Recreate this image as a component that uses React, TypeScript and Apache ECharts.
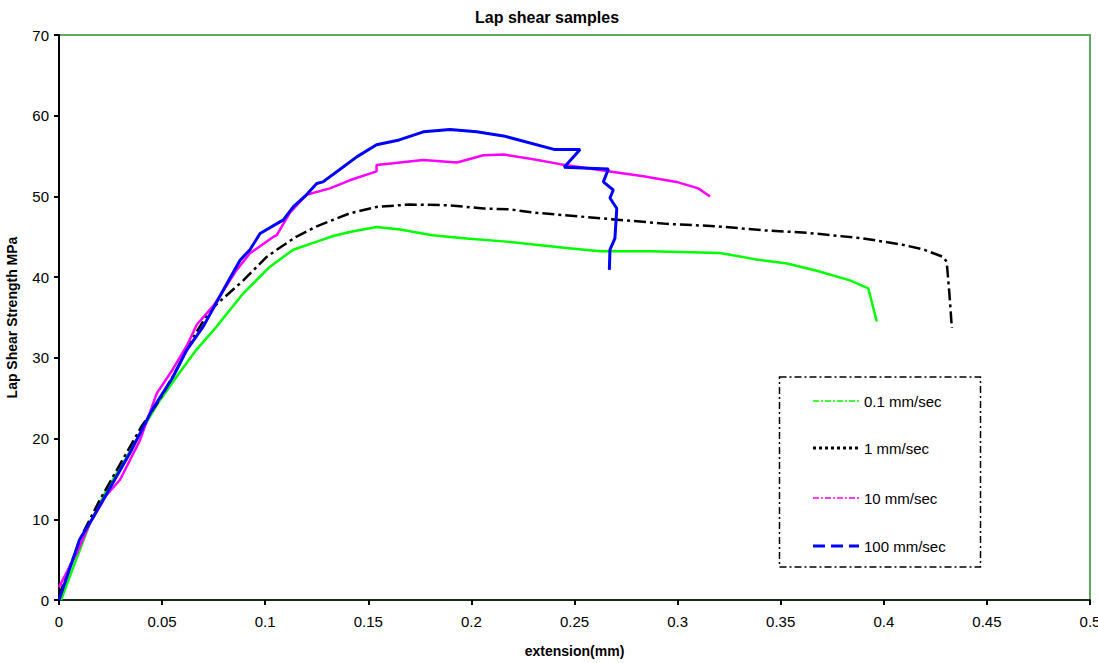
import React, { useEffect, useRef } from "react";
import * as echarts from "echarts";

const seriesNames = ["0.1 mm/sec", "1 mm/sec", "10 mm/sec", "100 mm/sec"];

const green01: number[][] = [
  [0.001, 0], [0.007, 4.1], [0.015, 9.5], [0.023, 13.6], [0.033, 17.8], [0.044, 22.7],
  [0.048, 24.4], [0.058, 28], [0.066, 30.8], [0.0765, 33.9], [0.0894, 38.0], [0.1023, 41.3],
  [0.1136, 43.4], [0.125, 44.4], [0.133, 45.1], [0.141, 45.6], [0.154, 46.2], [0.1654, 45.9],
  [0.181, 45.2], [0.1977, 44.8], [0.217, 44.4], [0.246, 43.6], [0.2624, 43.2], [0.2866, 43.2],
  [0.3206, 43.0], [0.338, 42.2], [0.353, 41.7], [0.3675, 40.8], [0.3836, 39.6], [0.3925, 38.6],
  [0.3966, 34.5],
];

const black1: number[][] = [
  [0, 0.5], [0.005, 4], [0.012, 8.5], [0.02, 12.5], [0.03, 17], [0.04, 21.5], [0.048, 24.5],
  [0.057, 28.5], [0.065, 32.5], [0.0732, 35.9], [0.0894, 39.6], [0.1007, 42.5], [0.1056, 43.4],
  [0.115, 45], [0.125, 46.3], [0.141, 47.9], [0.154, 48.7], [0.17, 49.0], [0.1896, 48.9],
  [0.2058, 48.5], [0.2187, 48.4], [0.23, 48.0], [0.2624, 47.3], [0.2947, 46.6], [0.319, 46.3],
  [0.3415, 45.8], [0.3626, 45.5], [0.39, 44.8], [0.4093, 44.0], [0.419, 43.45], [0.4288, 42.5],
  [0.4305, 41.9], [0.4318, 38], [0.433, 33.7],
];

const magenta10: number[][] = [
  [0, 1.6], [0.0086, 5.8], [0.015, 9.5], [0.023, 13.0], [0.0296, 14.9], [0.0393, 19.8],
  [0.0474, 25.6], [0.055, 28.5], [0.062, 31.5], [0.0668, 34.1], [0.075, 36.5], [0.0862, 40.9],
  [0.0926, 42.96], [0.104, 45.0], [0.1056, 45.2], [0.112, 48], [0.12, 50.2], [0.1314, 51.0],
  [0.141, 52.0], [0.154, 53.1], [0.154, 53.9], [0.162, 54.1], [0.1766, 54.5], [0.193, 54.2],
  [0.2058, 55.1], [0.2155, 55.2], [0.23, 54.6], [0.243, 54.0], [0.2672, 53.1], [0.2834, 52.5],
  [0.2995, 51.8], [0.31, 51.0], [0.3157, 50.0],
];

const blue100: number[][] = [
  [0, 0], [0.004, 3], [0.01, 7.5], [0.016, 10], [0.025, 14], [0.035, 18.5], [0.045, 23.5],
  [0.055, 27.5], [0.062, 31], [0.07, 33.9], [0.0797, 38.4], [0.0878, 42.1], [0.0926, 43.4],
  [0.0975, 45.4], [0.1088, 47.1], [0.1136, 48.7], [0.12, 50.2], [0.125, 51.6], [0.128, 51.8],
  [0.136, 53.3], [0.1444, 54.9], [0.154, 56.4], [0.165, 57.0], [0.1767, 58.0], [0.1896, 58.3],
  [0.2026, 58.0], [0.2155, 57.5], [0.2405, 55.8], [0.2527, 55.8], [0.245, 53.6], [0.2664, 53.4],
  [0.264, 51.8], [0.2688, 50.8], [0.2672, 49.8], [0.2705, 48.5], [0.2696, 44.8], [0.2672, 43.4],
  [0.2669, 40.9],
];

const FONT = 'Arial, "Liberation Sans", sans-serif';

export default function App() {
  const ref = useRef<HTMLDivElement>(null);
  useEffect(() => {
    if (!ref.current) return;
    const chart = echarts.init(ref.current, undefined, { renderer: "svg" });
    const legendRows = [
      { name: seriesNames[0], color: "#00ff00", dash: [6, 2, 2, 2], width: 1.5, y: 401 },
      { name: seriesNames[1], color: "#000000", dash: [3, 3], width: 3, y: 448 },
      { name: seriesNames[2], color: "#ff00ff", dash: [6, 2, 2, 2], width: 1.5, y: 498 },
      { name: seriesNames[3], color: "#0000ff", dash: [12, 6], width: 3, y: 546 },
    ];
    const graphics: any[] = [
      {
        type: "rect",
        shape: { x: 779.5, y: 377, width: 201, height: 190 },
        style: { fill: "#ffffff", stroke: "#000000", lineWidth: 1.5, lineDash: [7, 3, 2, 3] },
        z: 10,
      },
    ];
    legendRows.forEach((r) => {
      graphics.push({
        type: "line",
        shape: { x1: 813, y1: r.y, x2: 859, y2: r.y },
        style: { stroke: r.color, lineWidth: r.width, lineDash: r.dash },
        z: 11,
      });
      graphics.push({
        type: "text",
        x: 864,
        y: r.y,
        style: { text: r.name, fill: "#000", font: `15px ${FONT}`, verticalAlign: "middle", align: "left" },
        z: 11,
      });
    });

    const mk = (name: string, data: number[][], color: string, width: number, type: any) => ({
      name,
      type: "line",
      data,
      showSymbol: false,
      symbol: "none",
      smooth: false,
      lineStyle: { color, width, type },
      itemStyle: { color },
    });

    chart.setOption({
      animation: false,
      textStyle: { fontFamily: FONT },
      title: {
        text: "Lap shear samples",
        left: 470,
        top: 4,
        textStyle: { fontSize: 16, fontWeight: "bold", color: "#000", fontFamily: FONT },
      },
      grid: {
        left: 59,
        top: 35,
        right: 8,
        bottom: 63,
        containLabel: false,
        outerBoundsMode: "none",
        show: true,
        borderColor: "#5fa85f",
        borderWidth: 2,
      },
      xAxis: {
        type: "value",
        min: 0,
        max: 0.5,
        interval: 0.05,
        name: "extension(mm)",
        nameLocation: "middle",
        nameGap: 44,
        nameTextStyle: { fontSize: 14, fontWeight: "bold", color: "#000", fontFamily: FONT },
        axisLine: { show: true, onZero: false, lineStyle: { color: "#1b2b1b", width: 2 } },
        axisTick: { show: true, length: 5, lineStyle: { color: "#000", width: 2 } },
        axisLabel: {
          fontSize: 15,
          color: "#000",
          margin: 14,
          formatter: (v: number) => String(parseFloat(v.toFixed(2))),
        },
        splitLine: { show: false },
      },
      yAxis: {
        type: "value",
        min: 0,
        max: 70,
        interval: 10,
        name: "Lap Shear Strength MPa",
        nameLocation: "middle",
        nameGap: 40,
        nameTextStyle: { fontSize: 14, fontWeight: "bold", color: "#000", fontFamily: FONT },
        axisLine: { show: true, onZero: false, lineStyle: { color: "#000", width: 2 } },
        axisTick: { show: true, length: 5, lineStyle: { color: "#000", width: 2 } },
        axisLabel: { fontSize: 15, color: "#000", margin: 10 },
        splitLine: { show: false },
      },
      series: [
        mk(seriesNames[0], green01, "#00ff00", 2.5, "solid"),
        mk(seriesNames[1], black1, "#000000", 2.5, [12, 4, 3, 4]),
        mk(seriesNames[2], magenta10, "#ff00ff", 2.5, "solid"),
        mk(seriesNames[3], blue100, "#0000ff", 3, "solid"),
      ],
      graphic: graphics,
    });
    return () => chart.dispose();
  }, []);
  return (
    <div
      ref={ref}
      style={{ position: "fixed", left: 0, top: 0, width: 1098, height: 663, background: "#fff" }}
    />
  );
}
